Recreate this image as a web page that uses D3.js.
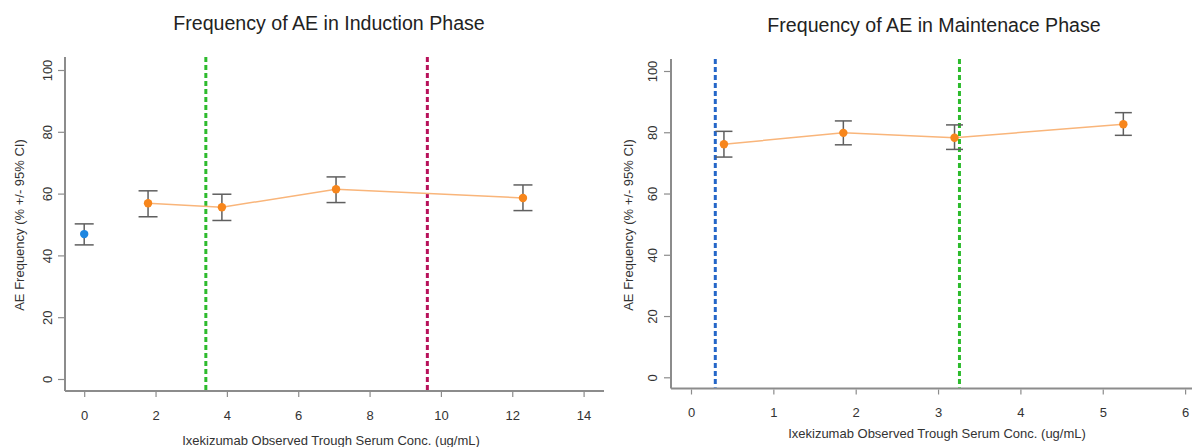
<!DOCTYPE html>
<html>
<head>
<meta charset="utf-8">
<script src="https://cdn.jsdelivr.net/npm/d3@7"></script>
<style>
  html, body { margin: 0; padding: 0; background: #fff; }
  svg { display: block; }
  text { font-family: "Liberation Sans", Arial, sans-serif; }
</style>
</head>
<body>
<svg id="chart" width="1192" height="447"></svg>
<script>
// Induction phase: placebo (0 ug/mL) and concentration quartiles
const indPlaceboX = [0];
const indPlaceboY = [46.9];
const indPlaceboLo = [43.4];
const indPlaceboHi = [50.2];
const indX = [1.79, 3.86, 7.06, 12.30];
const indY = [56.9, 55.6, 61.4, 58.6];
const indLo = [52.5, 51.3, 57.1, 54.5];
const indHi = [60.9, 59.8, 65.4, 62.8];
const indRefLines = [3.41, 9.62];
const indXTicks = [0, 2, 4, 6, 8, 10, 12, 14];

// Maintenance phase concentration quartiles
const mntX = [0.40, 1.85, 3.20, 5.25];
const mntY = [76.1, 79.8, 78.2, 82.6];
const mntLo = [71.9, 75.9, 74.4, 79.0];
const mntHi = [80.3, 83.7, 82.4, 86.4];
const mntRefLines = [0.295, 3.26];
const mntXTicks = [0, 1, 2, 3, 4, 5, 6];

const yTicks = [0, 20, 40, 60, 80, 100];

const titles = ["Frequency of AE in Induction Phase", "Frequency of AE in Maintenace Phase"];
const xTitle = "Ixekizumab Observed Trough Serum Conc. (ug/mL)";
const yTitle = "AE Frequency (% +/- 95% CI)";

const svg = d3.select("#chart");

const axisCol = "#8c8c8c";
const textCol = "#333";
const errCol = "#5f5f5f";
const ptOrange = "#f7861c";
const lineOrange = "#f9b57a";
const ptBlue = "#1f86e0";

function panel(cfg) {
  const g = svg.append("g");
  const x = d3.scaleLinear().domain(cfg.xDomain).range(cfg.xRange);
  const y = d3.scaleLinear().domain([0, 100]).range(cfg.yRange);

  // title
  g.append("text")
    .attr("x", cfg.titleX).attr("y", cfg.titleY)
    .attr("text-anchor", "middle")
    .attr("font-size", 19.6).attr("fill", "#222")
    .text(cfg.title);

  // y axis (rotated tick labels, L-shaped frame)
  const ya = d3.axisLeft(y).tickValues(yTicks).tickFormat(d3.format("d")).tickSize(7);
  const yg = g.append("g").attr("transform", `translate(${cfg.axisX},0)`).call(ya);
  yg.select(".domain").remove();
  yg.append("line")
    .attr("x1", 0).attr("x2", 0)
    .attr("y1", cfg.axisTop).attr("y2", cfg.axisY)
    .attr("stroke", axisCol).attr("stroke-width", 2);
  yg.selectAll(".tick line").attr("stroke", axisCol).attr("stroke-width", 1.2);
  yg.selectAll(".tick text")
    .attr("fill", textCol).attr("font-size", 13)
    .attr("x", 0).attr("dy", 0)
    .attr("text-anchor", "middle")
    .attr("transform", `translate(${cfg.yLabelX},0) rotate(-90)`)
    .attr("dominant-baseline", "central");

  // x axis
  const xa = d3.axisBottom(x).tickValues(cfg.xTicks).tickFormat(d3.format("d")).tickSize(5);
  const xg = g.append("g").attr("transform", `translate(0,${cfg.axisY})`).call(xa);
  xg.select(".domain").remove();
  xg.append("line")
    .attr("x1", cfg.axisX).attr("x2", cfg.axisRight)
    .attr("y1", 0).attr("y2", 0)
    .attr("stroke", axisCol).attr("stroke-width", 2);
  xg.selectAll(".tick line").attr("stroke", axisCol).attr("stroke-width", 1.2)
    .attr("y1", 1).attr("y2", 6);
  xg.selectAll(".tick text").attr("fill", textCol).attr("font-size", 13)
    .attr("dy", 0).attr("y", cfg.xLabelBase - cfg.axisY);

  // axis titles
  g.append("text")
    .attr("transform", `translate(${cfg.yTitleX},${cfg.yTitleY}) rotate(-90)`)
    .attr("text-anchor", "middle").attr("font-size", 13).attr("fill", textCol)
    .text(yTitle);
  g.append("text")
    .attr("x", cfg.xTitleX).attr("y", cfg.xTitleY)
    .attr("text-anchor", "middle").attr("font-size", 13).attr("fill", textCol)
    .text(xTitle);

  // vertical reference lines
  g.selectAll(".ref").data(cfg.refLines).enter().append("line")
    .attr("x1", d => x(d.v)).attr("x2", d => x(d.v))
    .attr("y1", cfg.axisTop).attr("y2", cfg.axisY - 1)
    .attr("stroke", d => d.c).attr("stroke-width", 3)
    .attr("stroke-dasharray", "5,3");

  // connecting line through the quartile means
  const pts = cfg.xs.map((v, i) => ({ x: v, y: cfg.ys[i], lo: cfg.los[i], hi: cfg.his[i], c: ptOrange }));
  g.append("path").datum(pts)
    .attr("fill", "none").attr("stroke", lineOrange).attr("stroke-width", 1.5)
    .attr("d", d3.line().x(d => x(d.x)).y(d => y(d.y)));

  // error bars and points
  const all = pts.concat(cfg.extra || []);
  const cap = cfg.cap;
  const eb = g.selectAll(".eb").data(all).enter().append("g");
  eb.append("line")
    .attr("x1", d => x(d.x)).attr("x2", d => x(d.x))
    .attr("y1", d => y(d.lo)).attr("y2", d => y(d.hi))
    .attr("stroke", errCol).attr("stroke-width", 1.5);
  eb.append("line")
    .attr("x1", d => x(d.x) - cap).attr("x2", d => x(d.x) + cap)
    .attr("y1", d => y(d.lo)).attr("y2", d => y(d.lo))
    .attr("stroke", errCol).attr("stroke-width", 1.5);
  eb.append("line")
    .attr("x1", d => x(d.x) - cap).attr("x2", d => x(d.x) + cap)
    .attr("y1", d => y(d.hi)).attr("y2", d => y(d.hi))
    .attr("stroke", errCol).attr("stroke-width", 1.5);
  eb.append("circle")
    .attr("cx", d => x(d.x)).attr("cy", d => y(d.y)).attr("r", 4.2)
    .attr("fill", d => d.c);
}

panel({
  title: titles[0], titleX: 329, titleY: 30,
  xDomain: [0, 14], xRange: [84.2, 583.6], xTicks: indXTicks,
  yRange: [379, 70],
  axisX: 65, axisY: 391, axisTop: 57, axisRight: 604,
  yLabelX: -18, xLabelBase: 420,
  yTitleX: 24, yTitleY: 225, xTitleX: 331, xTitleY: 445,
  refLines: [{ v: indRefLines[0], c: "#2dbb2d" }, { v: indRefLines[1], c: "#b8115a" }],
  xs: indX, ys: indY, los: indLo, his: indHi,
  extra: indPlaceboX.map((v, i) => ({ x: v, y: indPlaceboY[i], lo: indPlaceboLo[i], hi: indPlaceboHi[i], c: ptBlue })),
  cap: 9.5
});

panel({
  title: titles[1], titleX: 934, titleY: 32,
  xDomain: [0, 6], xRange: [691, 1185.1], xTicks: mntXTicks,
  yRange: [377.3, 71],
  axisX: 671, axisY: 388.5, axisTop: 59, axisRight: 1192,
  yLabelX: -19, xLabelBase: 417,
  yTitleX: 633, yTitleY: 225, xTitleX: 937, xTitleY: 438,
  refLines: [{ v: mntRefLines[0], c: "#2466c8" }, { v: mntRefLines[1], c: "#2dbb2d" }],
  xs: mntX, ys: mntY, los: mntLo, his: mntHi,
  extra: [],
  cap: 8.5
});
</script>
</body>
</html>
